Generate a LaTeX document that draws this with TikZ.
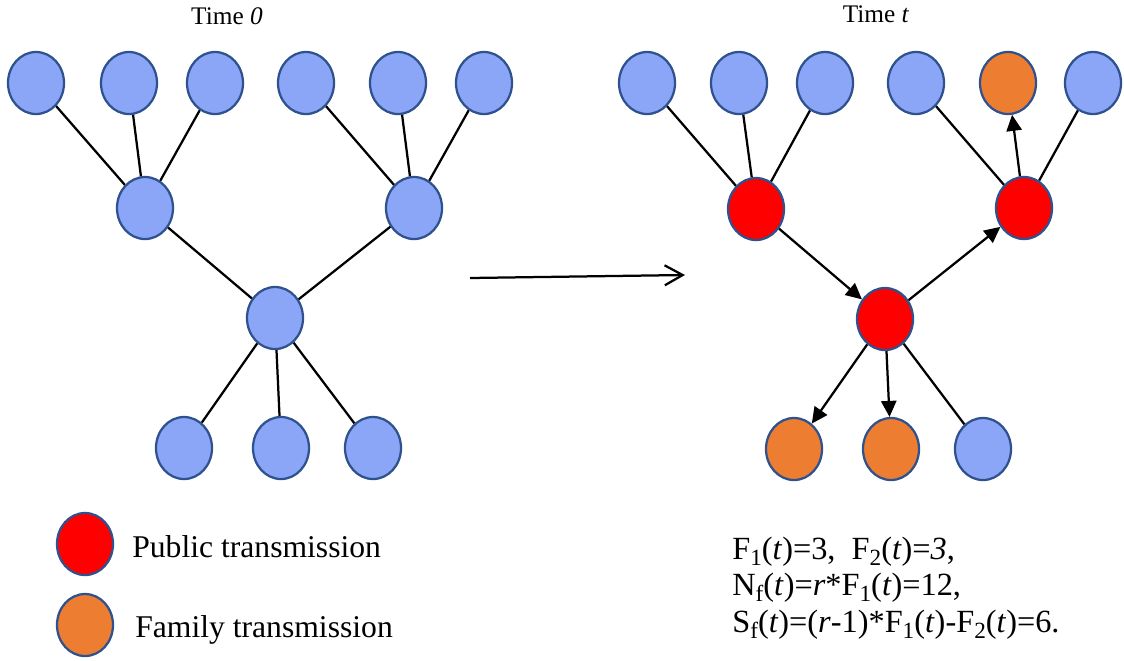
\documentclass[tikz,border=0pt]{standalone}
\usepackage{fontspec}
\setmainfont{Liberation Serif}
\usepackage{tikz}
\usetikzlibrary{shapes.geometric,arrows.meta}
\definecolor{nodeblue}{RGB}{139,166,247}
\definecolor{nodeedge}{RGB}{47,82,143}
\definecolor{famorange}{RGB}{237,125,49}
\newcommand{\sbt}[1]{\raisebox{-0.2em}{\fontsize{16.5}{17}\selectfont #1}}

\begin{document}
\begin{tikzpicture}[x=0.025cm,y=-0.025cm,
  person/.style={ellipse,draw=nodeedge,line width=1.6pt,minimum width=1.4cm,minimum height=1.55cm,inner sep=0pt},
  healthy/.style={person,fill=nodeblue},
  public/.style={person,fill=red},
  family/.style={person,fill=famorange},
  link/.style={line width=1.6pt},
  spread/.style={link,-{Triangle[length=0.4cm,width=0.38cm]}}]
\useasboundingbox (0,0) rectangle (1124,660);
\node[font=\fontsize{18}{20}\selectfont,anchor=base] (t0) at (227,24) {Time \textit{0}};
\node[font=\fontsize{18}{20}\selectfont,anchor=base] (tt) at (876,22) {Time \textit{t}};
% time 0
\node[healthy] (a1) at (36,83) {};
\node[healthy] (a2) at (129,83) {};
\node[healthy] (a3) at (215,83) {};
\node[healthy] (a4) at (306,83) {};
\node[healthy] (a5) at (398,83) {};
\node[healthy] (a6) at (484,83) {};
\node[healthy] (am1) at (145,208) {};
\node[healthy] (am2) at (414,208) {};
\node[healthy] (ac) at (275,318) {};
\node[healthy] (ab1) at (184,448) {};
\node[healthy] (ab2) at (281,448) {};
\node[healthy] (ab3) at (373,448) {};
\draw[link] (a1) -- (am1);
\draw[link] (a2) -- (am1);
\draw[link] (a3) -- (am1);
\draw[link] (a4) -- (am2);
\draw[link] (a5) -- (am2);
\draw[link] (a6) -- (am2);
\draw[link] (am1) -- (ac);
\draw[link] (am2) -- (ac);
\draw[link] (ac) -- (ab1);
\draw[link] (ac) -- (ab2);
\draw[link] (ac) -- (ab3);
% time t
\node[healthy] (b1) at (647,83) {};
\node[healthy] (b2) at (739,83) {};
\node[healthy] (b3) at (825,83) {};
\node[healthy] (b4) at (916,83) {};
\node[family] (b5) at (1008,83) {};
\node[healthy] (b6) at (1093,83) {};
\node[public] (bm1) at (756,209) {};
\node[public] (bm2) at (1024,208) {};
\node[public] (bc) at (885,319) {};
\node[family] (bb1) at (794,449) {};
\node[family] (bb2) at (891,449) {};
\node[healthy] (bb3) at (983,449) {};
\draw[link] (b1) -- (bm1);
\draw[link] (b2) -- (bm1);
\draw[link] (b3) -- (bm1);
\draw[link] (b4) -- (bm2);
\draw[spread] (bm2) -- (b5);
\draw[link] (b6) -- (bm2);
\draw[spread] (bm1) -- (bc);
\draw[spread] (bc) -- (bm2);
\draw[spread] (bc) -- (bb1);
\draw[spread] (bc) -- (bb2);
\draw[link] (bc) -- (bb3);
% arrow between the two times
\coordinate (go) at (470,278);
\coordinate (stop) at (685,275);
\draw[line width=1.6pt,-{Straight Barb[length=0.45cm,width=0.5cm,line width=1.6pt]}] (go) -- (stop);
% legend
\node[public] (legpub) at (85,544) {};
\node[family] (legfam) at (85,625) {};
\node[font=\fontsize{22.5}{24}\selectfont,anchor=base west,inner sep=0pt] (txtpub) at (132,557) {Public transmission};
\node[font=\fontsize{22.5}{24}\selectfont,anchor=base west,inner sep=0pt] (txtfam) at (135,637) {Family transmission};
% counts
\node[font=\fontsize{23}{25}\selectfont,anchor=base west,inner sep=0pt] (eq1) at (732,559) {F\sbt{1}(\textit{t})=3,\ \ F\sbt{2}(\textit{t})=\textit{3},};
\node[font=\fontsize{23}{25}\selectfont,anchor=base west,inner sep=0pt] (eq2) at (732,595) {N\sbt{f}(\textit{t})=\textit{r}*F\sbt{1}(\textit{t})=12,};
\node[font=\fontsize{23}{25}\selectfont,anchor=base west,inner sep=0pt] (eq3) at (732,632) {S\sbt{f}(\textit{t})=(\textit{r}-1)*F\sbt{1}(\textit{t})-F\sbt{2}(\textit{t})=6.};
\end{tikzpicture}
\end{document}
